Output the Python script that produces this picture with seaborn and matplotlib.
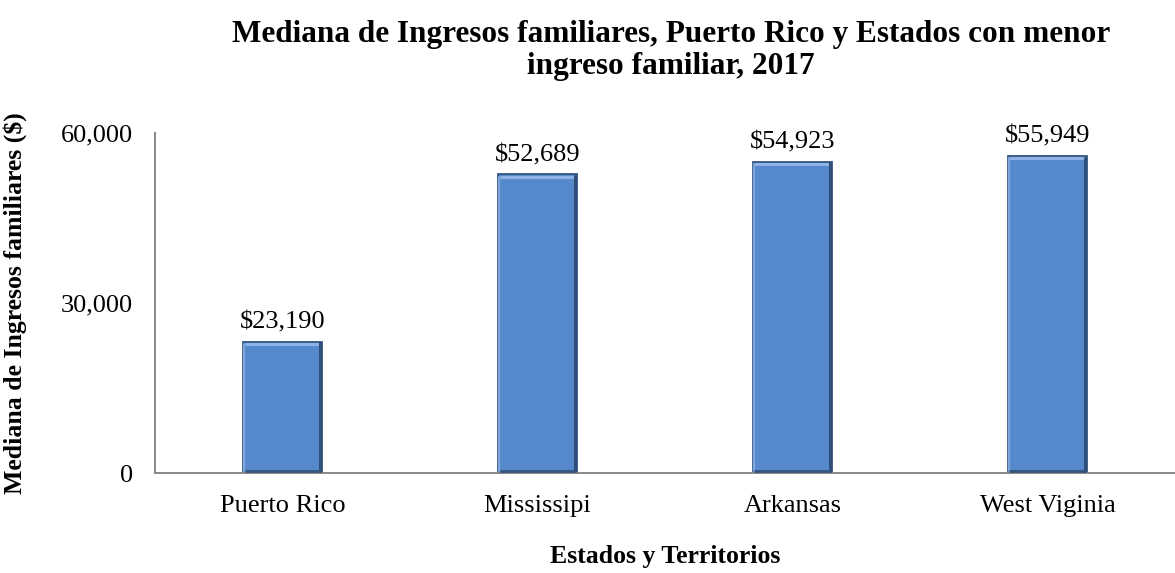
import matplotlib
matplotlib.use("Agg")
import matplotlib.pyplot as plt
from matplotlib.lines import Line2D
import seaborn as sns
import pandas as pd

# Median household income, 2017
categories = ["Puerto Rico", "Mississipi", "Arkansas", "West Viginia"]
incomes = [23190, 52689, 54923, 55949]
yticks = [0, 30000, 60000]

sns.set_theme(style="white")
plt.rcParams["font.family"] = ["Liberation Serif", "DejaVu Serif"]
plt.rcParams["text.color"] = "black"
plt.rcParams["axes.labelcolor"] = "black"
plt.rcParams["xtick.color"] = "black"
plt.rcParams["ytick.color"] = "black"

df = pd.DataFrame({"estado": categories, "ingreso": incomes})

fig = plt.figure(figsize=(11.75, 5.73), dpi=100)
ax = fig.add_axes([0.1319, 0.1745, 0.868, 0.5934])

sns.barplot(data=df, x="estado", y="ingreso", ax=ax, width=0.31,
            color="#5689CB", saturation=1, edgecolor="#34567F", linewidth=1.3)

# soft bevel: light upper/left rim, dark right/bottom rim inside each bar
for p in ax.patches:
    x0, y0 = p.get_x(), p.get_y()
    w, h = p.get_width(), p.get_height()
    ax.add_line(Line2D([x0 + w * 0.02, x0 + w * 0.98], [y0 + h - 400, y0 + h - 400],
                       color="#8FB3E6", lw=2.2, zorder=3, solid_capstyle="butt"))
    ax.add_line(Line2D([x0 + w * 0.015, x0 + w * 0.015], [y0 + 300, y0 + h - 400],
                       color="#7EA5DC", lw=1.6, zorder=3))
    ax.add_line(Line2D([x0 + w * 0.975, x0 + w * 0.975], [y0 + 300, y0 + h - 300],
                       color="#2F4E78", lw=2.2, zorder=3))
    ax.add_line(Line2D([x0 + w * 0.02, x0 + w * 0.98], [y0 + 350, y0 + 350],
                       color="#34567F", lw=2.0, zorder=3, solid_capstyle="butt"))

ax.set_ylim(0, 60000)
ax.set_xlim(-0.5, 3.5)
ax.set_yticks(yticks)
ax.set_yticklabels([f"{v:,}" for v in yticks], fontsize=19)
ax.set_xticks(range(len(categories)))
ax.set_xticklabels(categories, fontsize=19)

# category boundary ticks on the x axis
ax.set_xticks([i - 0.5 for i in range(len(categories) + 1)], minor=True)
ax.tick_params(axis="x", which="major", length=0, pad=16)
ax.tick_params(axis="x", which="minor", length=6, width=1.2, color="#888888", direction="out")
ax.tick_params(axis="y", length=6, width=1.2, color="#888888", direction="out", pad=10)

for side in ["top", "right"]:
    ax.spines[side].set_visible(False)
for side in ["left", "bottom"]:
    ax.spines[side].set_color("#888888")
    ax.spines[side].set_linewidth(1.4)

for i, v in enumerate(incomes):
    ax.annotate(f"${v:,}", (i, v), xytext=(0, 6), textcoords="offset points",
                ha="center", va="bottom", fontsize=19)

ax.set_xlabel("Estados y Territorios", fontsize=18.5, fontweight="bold", labelpad=20)
ax.set_ylabel("Mediana de Ingresos familiares ($)", fontsize=18.5, fontweight="bold", labelpad=24)

fig.suptitle("Mediana de Ingresos familiares, Puerto Rico y Estados con menor\ningreso familiar, 2017",
             x=0.571, y=0.965, fontsize=22.5, fontweight="bold", linespacing=1.12)

fig.savefig("out.png", dpi=100)
